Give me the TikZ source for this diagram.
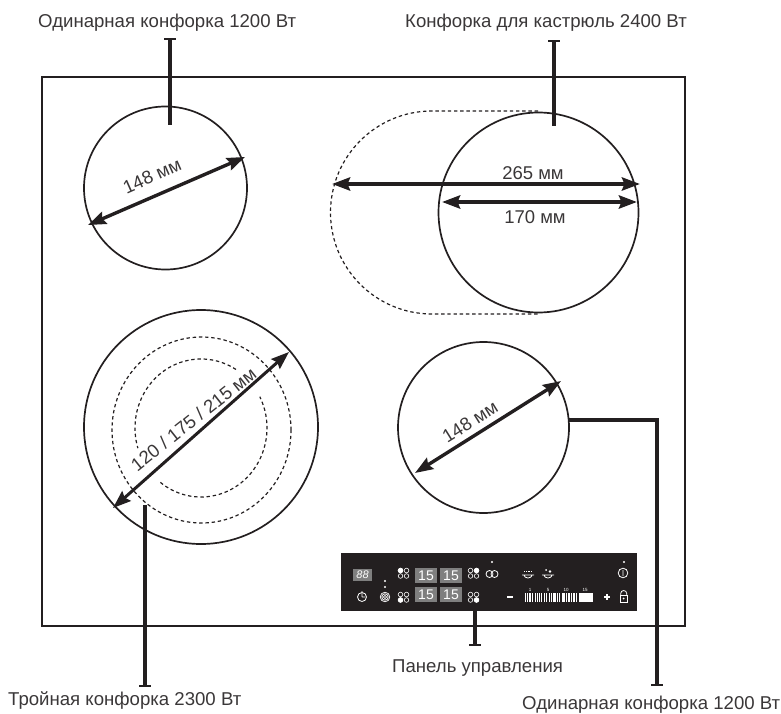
\documentclass[tikz,border=0pt]{standalone}
\usepackage{fontspec}
\setmainfont{Liberation Sans}
\usetikzlibrary{arrows.meta}
\definecolor{ink}{HTML}{231F20}
\definecolor{txt}{HTML}{3A3738}
\definecolor{seg}{HTML}{7F7F7F}
\tikzset{
  zone/.style={circle,draw=ink,line width=1.7pt,minimum size=#1,inner sep=0pt,outer sep=0pt},
  dash line/.style={draw=ink,line width=1.2pt,dash pattern=on 3.4pt off 2.8pt},
  dim/.style={ink,line width=#1,{Stealth[length=18pt,width=13pt,inset=2.5pt]}-{Stealth[length=18pt,width=13pt,inset=2.5pt]}},
  lead/.style={ink,line width=3.6pt},
  cap bar/.style={ink,line width=2.6pt},
  label/.style={text=txt,font=\fontsize{18.6}{20}\selectfont,inner sep=0pt,anchor=base west},
  dimtext/.style={text=txt,font=\fontsize{18.5}{20}\selectfont,inner sep=0pt},
  segbox/.style={fill=seg,draw=none,minimum width=22pt,minimum height=15pt,inner sep=0pt,text=white,font=\fontsize{14}{14}\selectfont},
  pic line/.style={white,line width=.8pt},
  led/.style={circle,draw=white,line width=.6pt,minimum size=4.6pt,inner sep=0pt},
  ledon/.style={led,fill=white},
}
\begin{document}
\begin{tikzpicture}[x=1pt,y=-1pt]
\useasboundingbox (0,0) rectangle (781,714);
\draw[ink,line width=1.4pt] (42,77) rectangle (685,626);

% zones
\node[zone=163pt] (z1) at (165.5,188) {};
\draw[dash line] (538,111) -- (432,111) arc[start angle=90,end angle=270,radius=101.5pt] -- (538,314);
\node[zone=200pt] (z2) at (538.5,212.5) {};
\node[zone=234pt] (z3) at (201,427) {};
\node[zone=171pt] (z4) at (483.5,427.5) {};
\draw[dash line] (201.5,430) ellipse[x radius=89.5pt,y radius=93pt];
\draw[dash line] ({201+66*cos(58)},{428-69*sin(58)}) arc[start angle=58,end angle=197,x radius=66pt,y radius=69pt];
\draw[dash line] ({201+66*cos(232)},{428-69*sin(232)}) arc[start angle=232,end angle=387,x radius=66pt,y radius=69pt];

% dimension arrows
\coordinate (a1) at (88,225); \coordinate (a2) at (245,157);
\coordinate (b1) at (332,184); \coordinate (b2) at (640,184);
\coordinate (c1) at (442,202); \coordinate (c2) at (637,202);
\coordinate (d1) at (113,508); \coordinate (d2) at (289,352);
\coordinate (e1) at (415,473); \coordinate (e2) at (561,381);
\draw[dim=3.4pt] (a1) -- (a2);
\draw[dim=4pt] (b1) -- (b2);
\draw[dim=4pt] (c1) -- (c2);
\draw[dim=3pt] (d1) -- (d2);
\draw[dim=3.4pt] (e1) -- (e2);
\node[dimtext,rotate=24] (t1) at (152,176) {148 мм};
\node[dimtext] (t2) at (533,173) {265 мм};
\node[dimtext] (t3) at (535,217) {170 мм};
\node[dimtext,rotate=38.5] (t4) at (193.5,419) {120 / 175 / 215 мм};
\node[dimtext,rotate=32] (t5) at (470,422) {148 мм};

% control panel
\node[fill=ink,minimum width=296pt,minimum height=58pt,inner sep=0pt,outer sep=0pt] (panel) at (489,582) {};
\node[fill=seg,minimum width=19pt,minimum height=12pt,inner sep=0pt,text=white,font=\fontsize{11}{11}\selectfont\itshape] (disp) at (362.5,575) {88};
\node[segbox] (s1) at (426,575.5) {15};
\node[segbox] (s2) at (451,575.5) {15};
\node[segbox] (s3) at (426,594.5) {15};
\node[segbox] (s4) at (451,594.5) {15};
\foreach \x/\y/\n in {398/568/a,398/592/b,468/568/c,468/592/d}{
  \node[led] (l\n1) at (\x+2.5,\y+2.5) {};
  \node[led] (l\n2) at (\x+8.5,\y+2.5) {};
  \node[led] (l\n3) at (\x+2.5,\y+8) {};
  \node[led] (l\n4) at (\x+8.5,\y+8) {};
}
\node[ledon] at (la1) {};
\node[ledon] at (lb3) {};
\node[ledon] at (lc2) {};
\node[ledon] at (ld4) {};
\fill[white] (385,581) circle[radius=1.2pt] (385,587) circle[radius=1.2pt] (492,562) circle[radius=1.2pt] (624,562) circle[radius=1.2pt];
% timer
\draw[pic line] (362,597) circle[radius=4.5pt] (362,597) -- (362,593.5) (362,597) -- (365,597) (362,592) -- (362,591);
% ring
\draw[white,line width=.7pt] (385,597) circle[radius=4.8pt] (385,597) circle[radius=3.2pt] (385,597) circle[radius=1.6pt];
% double ring
\draw[pic line] (489.5,574) circle[radius=3.5pt] (494.5,574) circle[radius=3.5pt];
% pots
\draw[pic line] (522,575) -- (534,575) (524,575) arc[start angle=180,end angle=360,x radius=4pt,y radius=3pt];
\draw[pic line,densely dotted] (524,571) -- (532,571);
\draw[pic line] (542,575) -- (554,575) (544,575) arc[start angle=180,end angle=360,x radius=4pt,y radius=3pt];
\fill[white] (546,570) circle[radius=1pt] (550,571.5) circle[radius=1.3pt];
% power
\draw[pic line] (623,573) circle[radius=4.8pt] (623,570) -- (623,576);
% minus, plus
\draw[white,line width=1.5pt] (507,597) -- (513,597) (604,597) -- (610,597) (607,594) -- (607,600);
% power bar
\foreach \x/\w in {525/.9,527.5/.7,530/1.1,532.5/.7,535/.9,537/.6,539.5/1,541.5/.7,544/.9,546.5/1.2,549/.7,551/1,553/.7,555/1.2,557.5/.8,559.5/1.1,562/.8,564/1.3,566.5/1,569/1.3,571.5/1.2,574/1.5,576.5/1.4}{
  \draw[white,line width=\w pt] (\x,593) -- (\x,602);
}
\fill[white] (579,593) rectangle (593,602);
\foreach \x/\v in {530/1,548/5,566/10,585/15}{
  \node[text=white,inner sep=0pt,font=\fontsize{4.5}{5}\selectfont] at (\x,590) {\v};
}
% lock
\draw[pic line] (620,595) rectangle (627.5,602);
\fill[white] (623.7,598.5) circle[radius=1pt];
\draw[pic line] (620.7,595) -- (620.7,593.5) arc[start angle=180,end angle=0,radius=3pt] -- (626.7,595);

% leaders
\coordinate (p1a) at (170,39); \coordinate (p1b) at (170,125);
\coordinate (p2a) at (554,41); \coordinate (p2b) at (554,126);
\coordinate (p3a) at (145,505); \coordinate (p3b) at (145,686);
\coordinate (p4a) at (569,420); \coordinate (p4c) at (657,420); \coordinate (p4b) at (657,685);
\coordinate (p5a) at (475,611); \coordinate (p5b) at (475,645);
\draw[lead] (p1a) -- (p1b);
\draw[lead] (p2a) -- (p2b);
\draw[lead] (p3a) -- (p3b);
\draw[lead] (p4a) -- (p4c) -- (p4b);
\draw[lead] (p5a) -- (p5b);
\draw[cap bar] ([xshift=-6pt]p1a) -- ([xshift=6pt]p1a);
\draw[cap bar] ([xshift=-6pt]p2a) -- ([xshift=6pt]p2a);
\draw[cap bar] ([xshift=-6pt]p3b) -- ([xshift=6pt]p3b);
\draw[cap bar] ([xshift=-6pt]p4b) -- ([xshift=6pt]p4b);
\draw[cap bar] ([xshift=-6pt]p5b) -- ([xshift=6pt]p5b);

% labels
\node[label] (n1) at (38,28) {Одинарная конфорка 1200 Вт};
\node[label] (n2) at (405,28) {Конфорка для кастрюль 2400 Вт};
\node[label] (n3) at (8,705) {Тройная конфорка 2300 Вт};
\node[label] (n4) at (522,709) {Одинарная конфорка 1200 Вт};
\node[label] (n5) at (392,672) {Панель управления};
\end{tikzpicture}
\end{document}
